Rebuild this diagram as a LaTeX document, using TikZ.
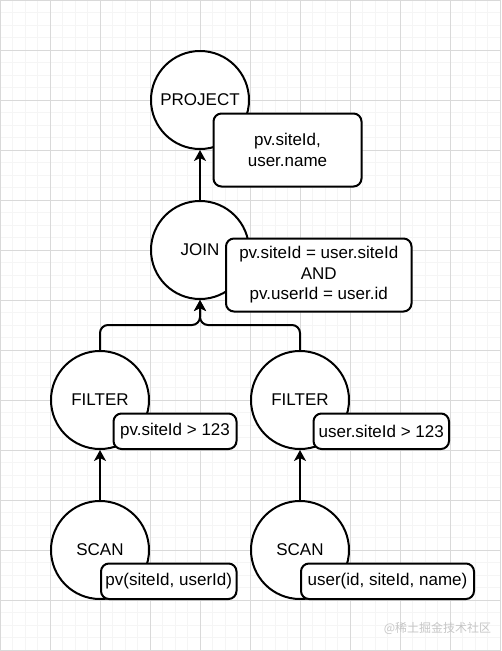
\documentclass[tikz,border=0pt]{standalone}
\usepackage{fontspec}
\setmainfont{Liberation Sans}
\newfontfamily\cjkfont{Noto Sans CJK SC}
\usetikzlibrary{positioning,arrows.meta}

\begin{document}
\begin{tikzpicture}[x=1pt, y=-1pt, >={Stealth[length=11pt,width=12pt,inset=3pt]},
    opnode/.style={draw, circle, line width=2pt, fill=white, minimum size=98pt, inner sep=0pt, font=\fontsize{17}{20.5}\selectfont},
    infobox/.style={draw, rounded corners=8pt, line width=2pt, fill=white, anchor=north west, inner sep=0pt, align=center, font=\fontsize{17}{20.5}\selectfont},
    link/.style={->, line width=2pt}]

        \useasboundingbox (0,0) rectangle (501,651);

        % Grid background
        \draw[gray!8, line width=1pt, step=12.5pt] (0,651) grid (501,0);
        \draw[gray!30, line width=1pt, step=50pt] (0,651) grid (501,0);

        % Operators
        \node[opnode] (project) at (200,100) {PROJECT};
        \node[opnode, below=50pt of project] (join) {JOIN};
        \node[opnode] (filter_pv) at (100,400) {FILTER};
        \node[opnode] (filter_user) at (300,400) {FILTER};
        \node[opnode, below=50pt of filter_pv] (scan_pv) {SCAN};
        \node[opnode, below=50pt of filter_user] (scan_user) {SCAN};

        % Connections
        \draw[link] (join) -- (project);
        \draw[link, rounded corners=8pt] (filter_pv.north) -- ++(0,-25) -| (join.south);
        \draw[link, rounded corners=8pt] (filter_user.north) -- ++(0,-25) -| (join.south);
        \draw[link] (scan_pv) -- (filter_pv);
        \draw[link] (scan_user) -- (filter_user);

        % Operator details
        \node[infobox, minimum width=148pt, minimum height=73pt] (project_box) at (212.5,112.5) {pv.siteId,\\user.name};
        \node[infobox, minimum width=185.5pt, minimum height=73pt] (join_box) at (225,237.5) {pv.siteId = user.siteId\\AND\\pv.userId = user.id};
        \node[infobox, minimum width=123pt, minimum height=35.5pt] (filter_pv_box) at (112.5,412.5) {pv.siteId > 123};
        \node[infobox, minimum width=135.5pt, minimum height=35.5pt] (filter_user_box) at (312.5,412.5) {user.siteId > 123};
        \node[infobox, minimum width=135.5pt, minimum height=35.5pt] (scan_pv_box) at (100,562.5) {pv(siteId, userId)};
        \node[infobox, minimum width=173pt, minimum height=35.5pt] (scan_user_box) at (300,562.5) {user(id, siteId, name)};

        % Watermark
        \node[font=\cjkfont\fontsize{12}{14}\selectfont, text=gray!45] (mark) at (437.5,628) {@稀土掘金技术社区};

    \end{tikzpicture}
\end{document}
